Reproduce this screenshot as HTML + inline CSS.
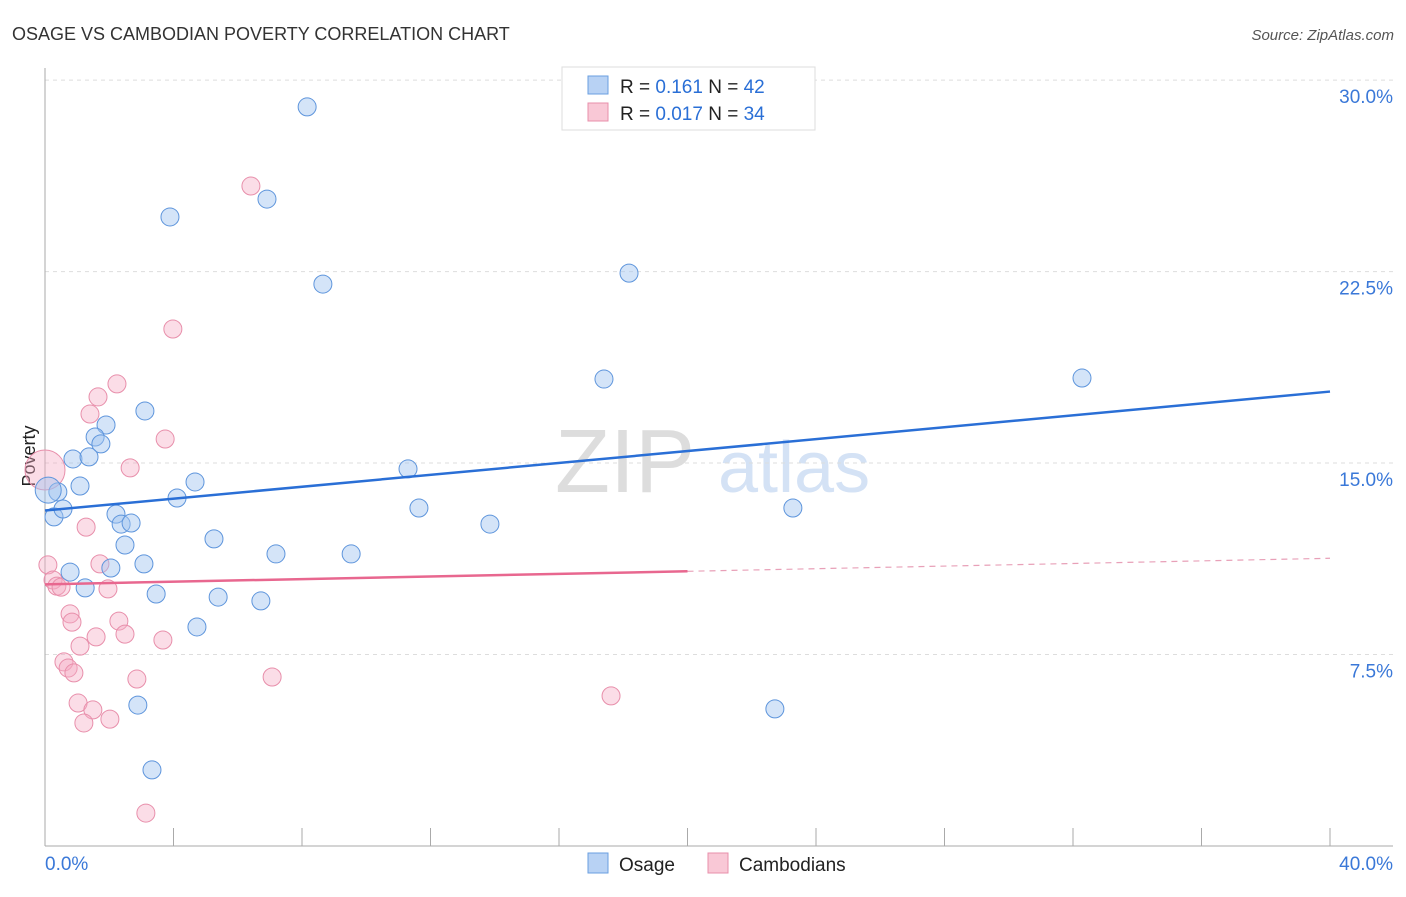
<!DOCTYPE html>
<html><head><meta charset="utf-8"><style>
body{margin:0;background:#fff;font-family:"Liberation Sans",sans-serif}
svg text{font-family:"Liberation Sans",sans-serif}
</style></head><body>
<svg id="c" width="1406" height="892">
<text x="12" y="40" font-size="18" fill="#333">OSAGE VS CAMBODIAN POVERTY CORRELATION CHART</text>
<text x="1394" y="40" font-size="15" fill="#555" text-anchor="end" font-style="italic">Source: ZipAtlas.com</text>
<text x="555" y="492" font-size="90" fill="#ddd" font-family="Liberation Serif">ZIP</text>
<text x="718" y="492" font-size="72" fill="#d4e2f5">atlas</text>
<text x="35" y="456" font-size="18" fill="#222" text-anchor="middle" transform="rotate(-90 35 456)">Poverty</text>
<g id="grid"></g><g id="marks"></g>
<g>
<rect x="562" y="67" width="253" height="63" fill="#fff" stroke="#ddd"/>
<rect x="588" y="76" width="20" height="18" fill="#b8d2f4" stroke="#6a9fe0"/>
<rect x="588" y="103" width="20" height="18" fill="#f9c8d6" stroke="#e88fab"/>
<text x="620" y="93" font-size="19" fill="#222">R = <tspan fill="#2a6fd6"> 0.161</tspan>   N = <tspan fill="#2a6fd6">42</tspan></text>
<text x="620" y="120" font-size="19" fill="#222">R = <tspan fill="#2a6fd6">0.017</tspan>   N = <tspan fill="#2a6fd6">34</tspan></text>
</g>
<g>
<rect x="588" y="853" width="20" height="20" fill="#b8d2f4" stroke="#6a9fe0"/>
<text x="619" y="871" font-size="19" fill="#222">Osage</text>
<rect x="708" y="853" width="20" height="20" fill="#f9c8d6" stroke="#e88fab"/>
<text x="739" y="871" font-size="19" fill="#222">Cambodians</text>
</g>
<text x="45" y="870" font-size="19" fill="#3a78d8">0.0%</text>
<text x="1393" y="870" font-size="19" fill="#3a78d8" text-anchor="end">40.0%</text>
</svg>
<script>
const yTicks=[7.5,15,22.5,30];
const yTickLabels=["7.5%","15.0%","22.5%","30.0%"];
const xTicks=[4,8,12,16,20,24,28,32,36,40];
const osageX=[8.16,3.89,6.91,8.65,18.18,17.40,32.28,3.11,1.90,1.56,1.74,0.87,1.37,1.09,0.40,0.28,0.56,4.67,4.11,11.30,11.64,13.85,23.28,2.21,2.37,2.68,2.49,5.26,7.19,9.53,3.08,2.05,0.78,1.25,3.46,5.39,6.72,4.73,2.89,22.72,3.33,0.1];
const osageY=[28.95,24.64,25.34,22.01,22.44,18.29,18.33,17.04,16.49,16.02,15.75,15.16,15.24,14.10,13.87,12.89,13.20,14.26,13.63,14.77,13.24,12.61,13.24,13.00,12.61,12.65,11.79,12.03,11.44,11.44,11.05,10.89,10.73,10.11,9.87,9.75,9.60,8.58,5.52,5.37,2.98,13.94];
const cambX=[6.41,3.98,2.24,1.65,1.40,3.74,2.65,1.28,1.71,0.09,0.25,0.37,0.50,1.96,0.78,0.84,2.30,1.59,2.49,1.09,3.67,0.59,0.72,0.90,2.86,7.07,17.62,1.03,1.49,2.02,1.21,3.14,0];
const cambY=[25.85,20.25,18.10,17.59,16.92,15.94,14.81,12.49,11.05,11.01,10.42,10.18,10.14,10.07,9.09,8.77,8.81,8.19,8.30,7.83,8.07,7.21,6.97,6.78,6.54,6.62,5.88,5.60,5.33,4.97,4.82,1.29,14.73];
const osageTrend=[[0,13.14],[40,17.80]];
const cambTrend=[[0,10.25],[20,10.76],[40,11.27]];
const X=v=>45+v*32.125, Y=v=>846-v*25.53;
const NS="http://www.w3.org/2000/svg";
function mk(tag,attrs,parent){const e=document.createElementNS(NS,tag);for(const k in attrs)e.setAttribute(k,attrs[k]);parent.appendChild(e);return e;}
const g=document.getElementById('grid'),m=document.getElementById('marks');
yTicks.forEach((t,i)=>{
 const l=mk('line',{x1:45,x2:1393,y1:Y(t),y2:Y(t),stroke:'#ddd','stroke-dasharray':'4 4'},g);
 
 
 const tx=mk('text',{x:1393,y:Y(t)+23,'font-size':19,fill:'#3a78d8','text-anchor':'end'},g);
 tx.textContent=yTickLabels[i];
 
 
});
const ax=mk('line',{x1:45,x2:45,y1:68,y2:846,stroke:'#aaa'},g);


const bx=mk('line',{x1:45,x2:1393,y1:846,y2:846,stroke:'#aaa'},g);


xTicks.forEach(t=>{
 const l=mk('line',{x1:X(t),x2:X(t),y1:828,y2:846,stroke:'#aaa'},g);
 
 
});
cambX.forEach((v,i)=>{
 const c=mk('circle',{cx:X(v),cy:Y(cambY[i]),r:i==cambX.length-1?20:9,fill:'rgba(245,170,195,0.4)',stroke:'#e88fab','stroke-width':1},m);
 
 
});
osageX.forEach((v,i)=>{
 const c=mk('circle',{cx:X(v),cy:Y(osageY[i]),r:i==osageX.length-1?13:9,fill:'rgba(160,195,240,0.45)',stroke:'#5e95dc','stroke-width':1},m);
 
 
});
const t1=mk('line',{x1:X(osageTrend[0][0]),y1:Y(osageTrend[0][1]),x2:X(osageTrend[1][0]),y2:Y(osageTrend[1][1]),stroke:'#2a6fd6','stroke-width':2.5},m);


const t2=mk('line',{x1:X(cambTrend[0][0]),y1:Y(cambTrend[0][1]),x2:X(cambTrend[1][0]),y2:Y(cambTrend[1][1]),stroke:'#e8678f','stroke-width':2.5},m);


const t3=mk('line',{x1:X(cambTrend[1][0]),y1:Y(cambTrend[1][1]),x2:X(cambTrend[2][0]),y2:Y(cambTrend[2][1]),stroke:'#e8a0b8','stroke-width':1.2,'stroke-dasharray':'6 5'},m);


</script>
</body></html>
